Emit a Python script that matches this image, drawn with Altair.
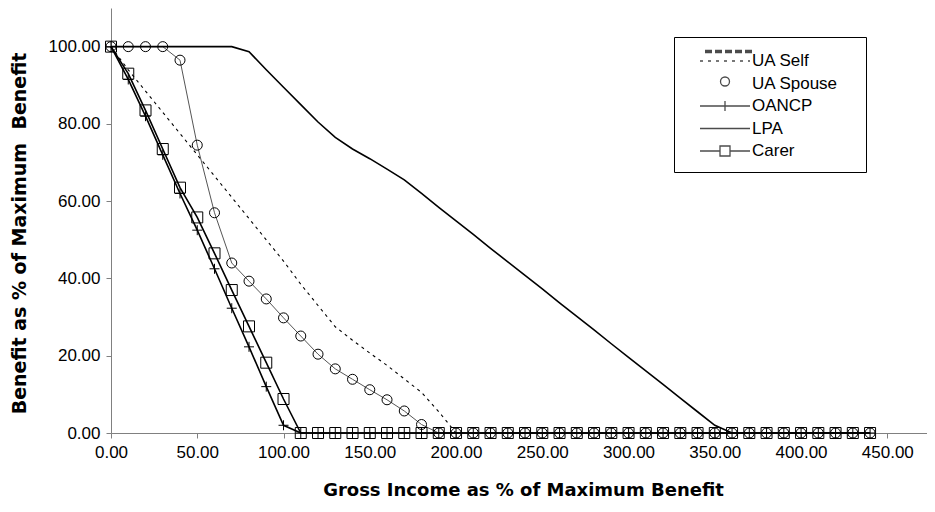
import altair as alt
import pandas as pd

# ---------------- data ----------------
x_main = [0, 10, 20, 30, 40, 50, 60, 70, 80, 90, 100, 110, 120, 130, 140, 150,
          160, 170, 180, 190, 200, 210, 220, 230, 240, 250, 260, 270, 280, 290,
          300, 310, 320, 330, 340, 350, 360, 370, 380, 390, 400, 410, 420, 430, 440]

ua_self = [100, 94, 88.5, 83, 77.5, 72, 66.5, 61, 55.5, 50, 44.5, 38.5, 33, 27.5,
           24, 20.7, 17.5, 14, 10.5, 5.5, 0, 0, 0, 0, 0, 0, 0, 0, 0, 0,
           0, 0, 0, 0, 0, 0, 0, 0, 0, 0, 0, 0, 0, 0, 0]

ua_spouse = [100, 100, 100, 100, 96.5, 74.5, 57, 44, 39.3, 34.7, 29.8, 25.1, 20.4,
             16.6, 13.9, 11.2, 8.6, 5.7, 2.2, 0, 0, 0, 0, 0, 0, 0, 0, 0, 0, 0,
             0, 0, 0, 0, 0, 0, 0, 0, 0, 0, 0, 0, 0, 0, 0]

oancp = [100, 91.5, 82, 72, 62, 52.5, 42.5, 32.3, 22.3, 12, 2, 0, 0, 0, 0, 0,
         0, 0, 0, 0, 0, 0, 0, 0, 0, 0, 0, 0, 0, 0,
         0, 0, 0, 0, 0, 0, 0, 0, 0, 0, 0, 0, 0, 0, 0]

lpa = [100, 100, 100, 100, 100, 100, 100, 100, 98.7, 94, 89.5, 85, 80.5, 76.5,
       73.5, 71, 68.3, 65.5, 62, 58.4, 54.9, 51.4, 47.8, 44.3, 40.8, 37.3, 33.7,
       30.2, 26.7, 23.1, 19.6, 16.1, 12.6, 9.0, 5.5, 2.0, 0, 0, 0, 0, 0, 0, 0, 0, 0]

carer = [100, 93, 83.5, 73.5, 63.5, 55.8, 46.5, 37, 27.6, 18.2, 8.8, 0, 0, 0, 0, 0,
         0, 0, 0, 0, 0, 0, 0, 0, 0, 0, 0, 0, 0, 0,
         0, 0, 0, 0, 0, 0, 0, 0, 0, 0, 0, 0, 0, 0, 0]

# unlabelled thick dashed series (its legend entry has no text)
x_extra = [0, 10, 20, 30, 40, 50, 60, 70, 80, 90, 100, 110, 120, 130, 140, 150,
           160, 170, 180, 190, 200, 210, 220, 230, 240, 250, 260, 270, 280, 290,
           300, 310, 320, 330, 340, 350, 360, 370, 380, 390, 400, 410, 420, 430,
           440, 450, 460, 470, 480]
extra = [100, 100, 100, 100, 96.5, None, None, None, None, None, None, None,
         20.4, 16.6, 13.9, 11.2, 8.6, 5.7, 2.2, 0, 0, 0, 0, 0, 0, 0, 0, 0, 0, 0,
         0, 0, 0, 0, 0, 0, 0, 0, 0, 0, 0, 0, 0, 0, 0, 0, 0, 0, 0]

series_names = ["UA Self", "UA Spouse", "OANCP", "LPA", "Carer"]
x_ticks = [0, 50, 100, 150, 200, 250, 300, 350, 400, 450]
y_ticks = [0, 20, 40, 60, 80, 100]

x_title = "Gross Income as % of Maximum Benefit"
y_title = "Benefit as % of Maximum\u00a0 Benefit"

# ---------------- long table ----------------
rows = []
for name, xs, ys in [("", x_extra, extra), ("UA Self", x_main, ua_self),
                     ("UA Spouse", x_main, ua_spouse), ("OANCP", x_main, oancp),
                     ("LPA", x_main, lpa), ("Carer", x_main, carer)]:
    for xv, yv in zip(xs, ys):
        rows.append({"series": name, "x": xv, "y": yv})
df = pd.DataFrame(rows)

# ---------------- legend symbol paths (styling only; 1 unit = 10 px) ----------------
L0, L1, MID = 0.2, 5.2, 2.7


def dashes(a, b, dash, gap, y=0.0):
    out, p = [], a
    while p < b - 1e-9:
        q = min(p + dash, b)
        out.append(f"M{p:.2f},{y:.2f}H{q:.2f}")
        p = q + gap
    return "".join(out)


# the blank (thick dashed) entry sits just above the UA Self entry
p_thick = "".join(dashes(0.7, 5.5, 0.7, 0.3, y) for y in (-1.05, -0.95, -0.85))
p_self = p_thick + dashes(L0, L1, 0.3, 0.5)
r = 0.45
p_spouse = (f"M{MID + r},-0.2A{r},{r} 0 1,1 {MID - r},-0.2"
            f"A{r},{r} 0 1,1 {MID + r},-0.2Z")
p_oancp = f"M{L0},0H{L1}M{MID},-0.5V0.5"
p_lpa = f"M{L0},0H{L1}"
h = 0.5
p_carer = (f"M{L0},0H{MID - h}M{MID + h},0H{L1}"
           f"M{MID - h},{-h}H{MID + h}V{h}H{MID - h}Z")
legend_paths = [p_self, p_spouse, p_oancp, p_lpa, p_carer]

plus_path = "M-1,0H1M0,-1V1"

# ---------------- chart ----------------
FONT = "Liberation Sans"
TFONT = "DejaVu Sans"
xenc = alt.X("x:Q", scale=alt.Scale(domain=[0, 473], nice=False, zero=False),
             axis=alt.Axis(values=x_ticks, format=".2f", title=x_title,
                           grid=False, tickSize=5, labelPadding=6,
                           labelFlush=False, labelOverlap=False,
                           titleFontSize=18, titleFontWeight="bold",
                           titleBaseline="middle", titleY=57, titleX=412))
yenc = alt.Y("y:Q", scale=alt.Scale(domain=[0, 110], nice=False),
             axis=alt.Axis(values=y_ticks, format=".2f", title=y_title,
                           grid=False, tickSize=5, labelPadding=6,
                           labelFlush=False, labelOverlap=False,
                           titleFontSize=19, titleFontWeight="bold",
                           titleAlign="center", titleAngle=270,
                           titleBaseline="middle", titleX=-92, titleY=225))

base = alt.Chart(df)


def only(name):
    return alt.FieldEqualPredicate(field="series", equal=name)


extra_line = base.transform_filter(only("")).mark_line(
    color="black", strokeWidth=2.6, strokeDash=[7, 3], clip=True,
    invalid="break-paths-filter-domains").encode(x=xenc, y=yenc)
self_line = base.transform_filter(only("UA Self")).mark_line(
    color="black", strokeWidth=1.1, strokeDash=[3, 4]).encode(x=xenc, y=yenc)
spouse_line = base.transform_filter(only("UA Spouse")).mark_line(
    color="#555555", strokeWidth=1).encode(x=xenc, y=yenc)
spouse_pts = base.transform_filter(only("UA Spouse")).mark_point(
    shape="circle", size=100, filled=False, color="black", strokeWidth=1,
    opacity=1).encode(x=xenc, y=yenc)
oancp_line = base.transform_filter(only("OANCP")).mark_line(
    color="black", strokeWidth=1.6).encode(x=xenc, y=yenc)
oancp_pts = base.transform_filter(only("OANCP")).mark_point(
    shape=plus_path, size=100, filled=False, color="black", strokeWidth=1,
    opacity=1).encode(x=xenc, y=yenc)
lpa_line = base.transform_filter(only("LPA")).mark_line(
    color="black", strokeWidth=1.6).encode(x=xenc, y=yenc)
carer_line = base.transform_filter(only("Carer")).mark_line(
    color="black", strokeWidth=1.6).encode(x=xenc, y=yenc)
carer_pts = base.transform_filter(only("Carer")).mark_point(
    shape="square", size=121, filled=False, color="black", strokeWidth=1,
    opacity=1).encode(x=xenc, y=yenc)

pad = "\u00a0\u00a0\u00a0\u200b"
legend_layer = base.transform_filter("datum.series != ''").mark_point(
    size=0, filled=False, color="black").encode(
    x=xenc, y=yenc,
    shape=alt.Shape("series:N",
                    scale=alt.Scale(domain=series_names, range=legend_paths),
                    legend=alt.Legend(
                        title=None, orient="none", legendX=563, legendY=29,
                        padding=13, strokeColor="black", fillColor="white",
                        symbolSize=400, symbolStrokeWidth=1.3,
                        symbolStrokeColor="black",
                        symbolFillColor="transparent",
                        labelFont=FONT, labelFontSize=17, labelOffset=43,
                        labelColor="black", rowPadding=3.5,
                        labelExpr=f"datum.label + '{pad}'")))

chart = alt.layer(
    extra_line, self_line, spouse_line, oancp_line, lpa_line, carer_line,
    spouse_pts, oancp_pts, carer_pts, legend_layer
).properties(
    width=816, height=425,
    autosize=alt.AutoSizeParams(type="none"),
    padding={"left": 103, "top": 0, "right": 0, "bottom": 66},
).configure_view(stroke=None).configure_axis(
    labelFont=FONT, titleFont=TFONT, labelFontSize=17, labelColor="black",
    titleColor="black", domainColor="#808080", tickColor="#808080",
    domainWidth=1
)

chart.save("out.html", embed_options={"renderer": "svg", "actions": False})
